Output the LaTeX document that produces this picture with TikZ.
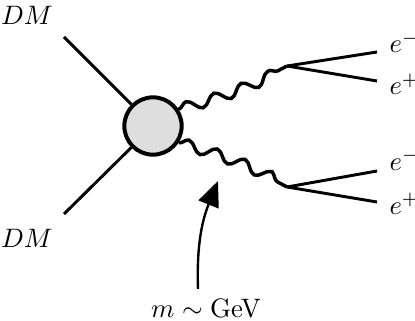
\documentclass[tikz,border=0pt]{standalone}
\usepackage{tikz}
\usetikzlibrary{arrows.meta,decorations.pathmorphing}
\usepackage{amsmath}

\begin{document}
\begin{tikzpicture}[x=0.375pt, y=-0.375pt,
  blob/.style={circle, draw, line width=1.5pt, fill=black!13, minimum size=21.5pt, inner sep=0pt},
  leg/.style={line width=1.1pt},
  photon/.style={line width=1.3pt, decorate, decoration={snake, segment length=11pt, amplitude=2pt}},
  lbl/.style={anchor=base west, inner sep=0pt},
  arr/.style={-{Triangle[length=9.5pt,width=8pt]}, line width=0.9pt}
]
\useasboundingbox (0,0) rectangle (415,320);
\node[blob] (blob) at (153,126) {};
\node (dmA) at (27,15) {$DM$};
\node (dmB) at (27,238) {$DM$};
\coordinate (dm1) at (64,37);
\coordinate (dm2) at (64,214);
\coordinate (v1) at (287,66);
\coordinate (v2) at (287,187);
\coordinate (f1) at (377,52);
\coordinate (f2) at (377,81);
\coordinate (f3) at (377,171);
\coordinate (f4) at (377,202);
\node[lbl] (em1) at (389,53) {$e^-$};
\node[lbl] (ep1) at (389,95) {$e^+$};
\node[lbl] (em2) at (389,170) {$e^-$};
\node[lbl] (ep2) at (389,214) {$e^+$};
\node (mass) at (206,308) {$m\sim\text{GeV}$};
\coordinate (tip) at (218,181);

\draw[leg] (dm1) -- (blob);
\draw[leg] (dm2) -- (blob);
\draw[photon] (blob.33) to[bend right=6] (v1);
\draw[photon] (blob.-33) to[bend left=6] (v2);
\draw[leg] (v1) -- (f1);
\draw[leg] (v1) -- (f2);
\draw[leg] (v2) -- (f3);
\draw[leg] (v2) -- (f4);
\draw[arr] ([xshift=-3pt]mass.north) to[out=92, in=-112] (tip);
\end{tikzpicture}
\end{document}
